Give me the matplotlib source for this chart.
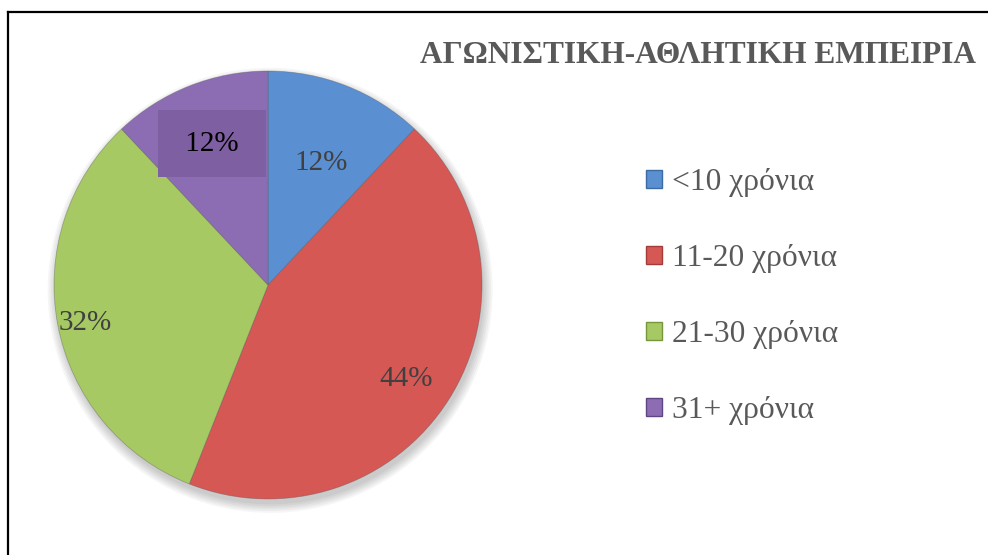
import matplotlib.pyplot as plt
import matplotlib.patches as mpatches
import numpy as np

plt.rcParams['font.family'] = ['Liberation Serif', 'DejaVu Serif']

title = "ΑΓΩΝΙΣΤΙΚΗ-ΑΘΛΗΤΙΚΗ ΕΜΠΕΙΡΙΑ"
labels = ["<10 χρόνια", "11-20 χρόνια", "21-30 χρόνια", "31+ χρόνια"]
values = [12, 44, 32, 12]
colors = ['#5a8fd2', '#d55855', '#a6c964', '#8c6db3']
edges = ['#3c6aa3', '#a33c39', '#76963c', '#5f4683']

# label placement (fraction of radius, angle shift in degrees)
label_r = [0.62, 0.78, 0.875, 0.71]
label_shift = [-2, -2, 1, 0]

fig = plt.figure(figsize=(9.88, 5.55), dpi=100)

# frame lines (top and left visible)
fig.add_artist(plt.Line2D([8/988, 1.0], [1-12/555, 1-12/555], color='black', lw=1.6))
fig.add_artist(plt.Line2D([8/988, 8/988], [1-12/555, 0.0], color='black', lw=1.6))

ax = fig.add_axes([0.0547, 0.1009, 0.4332, 0.7712])

# soft shadow under the pie
for k in range(6):
    ax.add_patch(mpatches.Circle((0.01, -0.025), 1.0 + 0.008 * k, color='black',
                                 alpha=0.035, lw=0, zorder=0, clip_on=False))

wedges, _ = ax.pie(values, colors=colors, startangle=90, counterclock=False,
                   wedgeprops=dict(linewidth=0.6, edgecolor='#55555560'))
ax.set_xlim(-1, 1)
ax.set_ylim(-1, 1)
ax.set_aspect('equal')
ax.axis('off')

for i, w in enumerate(wedges):
    ang = np.deg2rad((w.theta1 + w.theta2) / 2 + label_shift[i])
    x = label_r[i] * np.cos(ang)
    y = label_r[i] * np.sin(ang)
    if i == 3:
        ax.text(x, y, f" {values[i]}% ", ha='center', va='center', fontsize=21,
                color='black',
                bbox=dict(boxstyle='square,pad=0.7', fc='#7e5fa2', ec='none'))
    else:
        ax.text(x, y, f"{values[i]}%", ha='center', va='center', fontsize=21,
                color='#404040')

fig.text(420/988, 1-63/555, title, ha='left', va='baseline', fontsize=22.6,
         fontweight='bold', color='#595959')

handles = [mpatches.Patch(facecolor=c, edgecolor=e, linewidth=1) for c, e in zip(colors, edges)]
fig.legend(handles, labels, loc='upper left', bbox_to_anchor=(646/988, 1-168/555),
           frameon=False, fontsize=22.7, labelcolor='#595959',
           handlelength=0.52, handleheight=0.52, handletextpad=0.3, labelspacing=1.49,
           borderpad=0, borderaxespad=0)

fig.savefig("out.png", dpi=100)
